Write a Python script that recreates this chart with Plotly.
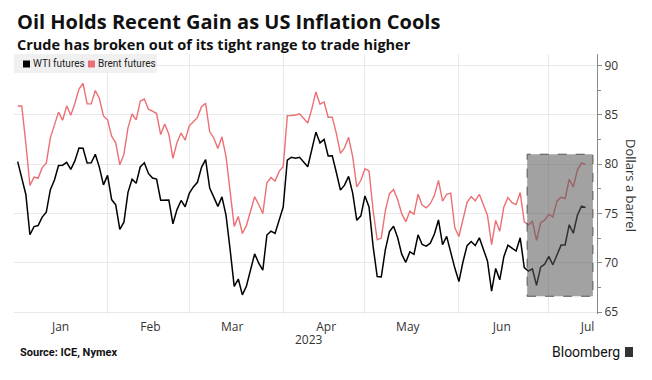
import numpy as np
import pandas as pd
import plotly.graph_objects as go

# ---------------- data (weekday axis, Dec 30 2022 .. Jul 13 2023) ----------------
dates = pd.bdate_range("2022-12-30", "2023-07-13")

wti = [80.26, None, 76.93, 72.84, 73.67, 73.77, 74.63, 75.12, 77.41, 78.39,
       79.86, 79.9, 80.18, 79.48, 80.33, 81.64, 81.62, 80.13, 80.15, 81.01,
       79.68, 77.90, 78.87,
       76.41, 75.88, 73.39, 74.11, 77.14, 78.47, 78.06, 79.72, 80.14, 79.06,
       78.59, 78.49, 76.34, None, 76.36, 73.95, 75.39, 76.32, 75.68, 77.05,
       77.69, 78.16, 79.68, 80.46, 77.58, 76.66, 75.72, 76.68, 74.80, 71.33,
       67.61, 68.35, 66.74, 67.64, 69.33, 70.90, 69.96, 69.26, 72.81, 73.20,
       72.97, 74.37, 75.67,
       80.42, 80.71, 80.61, 80.70, None, 79.74, 81.53, 83.26, 82.16, 82.52,
       80.83, 80.86, 79.16, 77.37, 77.87, 78.76, 77.07, 74.30, 74.76, 76.78,
       75.66, 71.66, 68.60, 68.56, 71.34, 73.16, 73.71, 72.56, 70.87, 70.04,
       71.11, 70.86, 72.83, 71.86, 71.69, 71.99, 72.91, 74.34, 71.83, 72.67,
       None, 69.46, 68.09,
       70.10, 71.74, 72.15, 71.74, 72.53, 71.29, 70.17, 67.12, 69.42, 68.27,
       70.62, 71.78, None, 71.19, 72.53, 69.51, 69.16, 69.37, 67.70, 69.56,
       69.86, 70.64,
       69.79, None, 71.79, 71.80, 73.86, 72.99, 74.83, 75.75, 75.60]

brent = [85.91, 85.91, 82.10, 77.84, 78.69, 78.57, 79.65, 80.10, 82.67, 84.03,
         85.28, 84.46, 85.92, 84.98, 86.16, 87.63, 88.19, 86.13, 86.12, 87.47,
         86.66, 84.90, 84.50,
         82.84, 82.17, 79.94, 80.99, 83.69, 85.09, 84.50, 86.39, 86.61, 85.58,
         85.38, 85.14, 83.00, 84.07, 83.05, 80.60, 82.21, 83.16, 82.45, 83.89,
         84.31, 84.75, 85.83, 86.18, 83.29, 82.66, 81.59, 82.78, 80.77, 77.45,
         73.69, 74.70, 72.97, 73.79, 75.32, 76.69, 75.91, 74.99, 78.12, 78.65,
         78.28, 79.27, 79.77,
         84.93, 84.94, 84.99, 85.12, None, 84.18, 85.61, 87.33, 86.09, 86.31,
         84.76, 84.77, 83.12, 81.10, 81.66, 82.73, 80.77, 77.69, 78.37, 79.54,
         79.31, 75.32, 72.33, 72.50, 75.30, 77.01, 77.44, 76.41, 74.98, 74.17,
         75.23, 74.91, 76.96, 75.86, 75.58, 75.99, 76.84, 78.36, 76.26, 76.95,
         77.07, 73.54, 72.66,
         74.28, 76.13, 76.71, 76.29, 76.95, 75.96, 74.79, 71.84, 74.29, 73.20,
         75.67, 76.61, 76.09, 75.90, 77.12, 74.14, 73.85, 74.18, 72.26, 74.03,
         74.34, 74.90,
         74.65, 76.25, 76.65, 76.52, 78.47, 77.69, 79.40, 80.11, 80.00]

month_labels = ["Jan", "Feb", "Mar", "Apr", "May", "Jun", "Jul"]
year_label = "2023"
y_tick_values = [65, 70, 75, 80, 85, 90]
highlight_start = "2023-06-23"

series_names = ["WTI futures", "Brent futures"]
# ---------------------------------------------------------------------------------

WTI_COLOR = "#000000"
BRENT_COLOR = "#ec6f74"
GRID = "#e9e9e9"

x = np.arange(len(dates))

# month-end gridlines (last weekday of each month) and mid-month labels
grid_x = [i for i in range(len(dates) - 1)
          if dates[i + 1].month != dates[i].month and dates[i].year == 2023]
label_x = [float(np.searchsorted(dates, pd.Timestamp(2023, m, 15))) - 0.5
           for m in range(1, len(month_labels) + 1)]

# the page body adds an 8px margin; lay out in reference pixels, shifted by OFF
OFF = 8
W, H = 652 - OFF, 380 - OFF
PL, PT, PR, PB = 14, 54, 597, 314        # plot box in reference pixels
L, T = PL - OFF, PT - OFF
PW, PH = PR - PL, PB - PT
R, B = W - L - PW, H - T - PH


def px(xp):
    return (xp - PL) / PW


def py(yp):
    return (PB - yp) / PH


fig = go.Figure()
fig.add_trace(go.Scatter(x=x, y=wti, mode="lines", name=series_names[0],
                         line=dict(color=WTI_COLOR, width=1.5),
                         connectgaps=True, showlegend=False))
fig.add_trace(go.Scatter(x=x, y=brent, mode="lines", name=series_names[1],
                         line=dict(color=BRENT_COLOR, width=1.4),
                         connectgaps=True, showlegend=False))

# highlight box around the recent breakout
hs = int(np.searchsorted(dates, pd.Timestamp(highlight_start)))
win = [v for v in wti[hs:] + brent[hs:] if v is not None]
fig.add_shape(type="rect", xref="x", yref="y",
              x0=hs - 0.3, x1=len(dates) - 1 + 1.8,
              y0=min(win) - 1.1, y1=max(win) + 0.9,
              fillcolor="rgba(90,90,90,0.56)", layer="above",
              line=dict(color="#555555", width=1, dash="dash"))

# legend box
fig.add_shape(type="rect", xref="paper", yref="paper",
              x0=px(14), x1=px(157), y0=py(73), y1=py(54),
              fillcolor="#f0f0f0", line=dict(width=0), layer="above")
fig.add_shape(type="rect", xref="paper", yref="paper",
              x0=px(23), x1=px(30), y0=py(67.5), y1=py(60.5),
              fillcolor=WTI_COLOR, line=dict(width=0), layer="above")
fig.add_shape(type="rect", xref="paper", yref="paper",
              x0=px(88), x1=px(95), y0=py(67.5), y1=py(60.5),
              fillcolor=BRENT_COLOR, line=dict(width=0), layer="above")

font_family = "Open Sans"
ann = []
ann.append(dict(text="Oil Holds Recent Gain as US Inflation Cools",
                x=px(16), y=py(21.8), xanchor="left", yanchor="middle", borderpad=0,
                font=dict(family="Open Sans", size=20, color="#111", weight="bold")))
ann.append(dict(text="Crude has broken out of its tight range to trade higher",
                x=px(16), y=py(44.5), xanchor="left", yanchor="middle", borderpad=0,
                font=dict(family="Open Sans", size=14.5, color="#111", weight="bold")))
ann.append(dict(text=series_names[0], x=px(31), y=py(64), xanchor="left",
                yanchor="middle", font=dict(family="Roboto", size=10, color="#222")))
ann.append(dict(text=series_names[1], x=px(96), y=py(64), xanchor="left",
                yanchor="middle", font=dict(family="Roboto", size=10, color="#222")))
ann.append(dict(text="Dollars a barrel", x=px(631), y=py(185), textangle=90,
                xanchor="center", yanchor="middle",
                font=dict(family=font_family, size=13, color="#333")))
ann.append(dict(text=year_label, x=px(309), y=py(339), xanchor="center", yanchor="middle",
                font=dict(family=font_family, size=12, color="#333")))
ann.append(dict(text="Source: ICE, Nymex", x=px(18), y=py(352), xanchor="left",
                yanchor="middle",
                font=dict(family="Roboto", size=11, color="#111", weight="bold")))
ann.append(dict(text="Bloomberg", x=px(622), y=py(352), xanchor="right",
                yanchor="middle",
                font=dict(family="Roboto", size=14, color="#111")))
for a in ann:
    a.update(xref="paper", yref="paper", showarrow=False)

# small logo mark next to Bloomberg
fig.add_shape(type="rect", xref="paper", yref="paper",
              x0=px(625), x1=px(633), y0=py(357), y1=py(347),
              fillcolor="#333", line=dict(width=0))

fig.update_layout(
    width=W, height=H,
    margin=dict(l=L, r=R, t=T, b=B, autoexpand=False),
    paper_bgcolor="white", plot_bgcolor="white",
    font=dict(family=font_family, size=12, color="#333"),
    annotations=ann,
    showlegend=False,
)
fig.update_xaxes(
    range=[-0.9, 141.8],
    tickmode="array", tickvals=label_x, ticktext=month_labels,
    showgrid=False, ticks="", showline=False, zeroline=False,
    ticklabelstandoff=4,
    tickfont=dict(size=12, color="#333"),
    minor=dict(tickmode="array", tickvals=grid_x, showgrid=True,
               gridcolor=GRID, gridwidth=1, ticks=""),
)
fig.update_yaxes(
    side="right", range=[64.8, 91.18],
    tickmode="array", tickvals=y_tick_values,
    showgrid=True, gridcolor=GRID, zeroline=False,
    showline=True, linecolor="#8a8a8a", linewidth=1,
    ticks="outside", ticklen=4, tickcolor="#8a8a8a",
    tickfont=dict(size=12, color="#333"),
    minor=dict(dtick=2.5, tick0=65, ticks="outside", ticklen=3,
               tickcolor="#8a8a8a", showgrid=False),
)

fig.write_html("out.html")
